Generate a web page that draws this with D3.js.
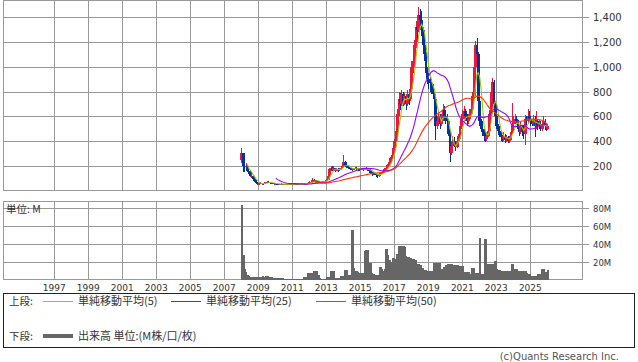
<!DOCTYPE html>
<html>
<head>
<meta charset="utf-8">
<script src="https://cdn.jsdelivr.net/npm/d3@7"></script>
<style>
  html, body { margin: 0; padding: 0; background: #fff; }
  svg text { font-family: "DejaVu Sans", sans-serif; fill: #333; }
  svg text.jp { font-family: "Noto Sans CJK JP", sans-serif; }
</style>
</head>
<body>
<svg id="chart" width="638" height="362"></svg>
<script>
// monthly bars, Dec 2007 .. Dec 2025
const firstMonth = new Date(2007, 11, 1);
const lastMonth = new Date(2025, 11, 1);

const opens = [250,
  300, 200, 190, 200, 160, 150, 120, 120, 90, 80, 60, 55,
  55, 60, 55, 52, 58, 65, 70, 66, 62, 60, 58, 55,
  55, 52, 50, 50, 54, 50, 48, 50, 52, 50, 50, 52,
  55, 55, 56, 52, 50, 50, 52, 54, 55, 52, 56, 62,
  66, 72, 88, 82, 78, 74, 70, 68, 70, 72, 74, 78,
  85, 115, 170, 185, 165, 180, 160, 170, 165, 175, 185, 200,
  230, 205, 190, 185, 180, 175, 170, 175, 180, 178, 172, 170,
  175, 172, 168, 175, 178, 170, 160, 148, 140, 135, 130, 125,
  120, 130, 140, 150, 160, 172, 185, 205, 230, 260, 290, 340,
  400, 480, 620, 740, 700, 780, 720, 760, 700, 780, 740, 820,
  1000, 1050, 1180, 1320, 1300, 1420, 1380, 1300, 1180, 1100, 950, 900,
  880, 870, 820, 780, 740, 520, 560, 600, 540, 580, 650, 600,
  580, 560, 460, 300, 360, 400, 380, 350, 400, 440, 520, 580,
  600, 640, 600, 560, 580, 620, 660, 760, 1000, 1180, 1100, 720,
  560, 500, 470, 440, 420, 440, 480, 620, 800, 880, 700, 600,
  520, 480, 450, 430, 420, 440, 410, 430, 400, 420, 470, 540,
  560, 580, 560, 500, 470, 520, 480, 460, 580, 560, 600, 580,
  560, 540, 580, 520, 560, 520, 540, 500, 520, 560, 520, 500];

const highs = [345,
  305, 215, 220, 205, 170, 155, 135, 125, 95, 85, 65, 62,
  66, 62, 58, 64, 72, 78, 74, 68, 64, 62, 60, 58,
  57, 54, 53, 57, 56, 52, 53, 55, 54, 53, 55, 58,
  58, 60, 58, 54, 53, 55, 57, 58, 56, 60, 68, 74,
  80, 100, 95, 86, 80, 76, 73, 74, 76, 78, 82, 92,
  120, 185, 200, 195, 195, 185, 180, 178, 185, 195, 215, 290,
  240, 210, 200, 192, 185, 180, 185, 190, 188, 182, 178, 182,
  180, 178, 182, 188, 182, 172, 165, 152, 145, 140, 135, 132,
  140, 150, 160, 168, 180, 195, 215, 245, 270, 305, 360, 420,
  500, 660, 800, 790, 810, 800, 790, 780, 810, 800, 860, 1050,
  1100, 1220, 1370, 1380, 1480, 1470, 1450, 1320, 1250, 1120, 1000, 950,
  920, 900, 860, 800, 760, 600, 640, 620, 620, 700, 680, 640,
  620, 580, 480, 400, 440, 430, 400, 420, 460, 560, 620, 650,
  680, 660, 620, 620, 660, 700, 800, 1040, 1210, 1234, 1120, 760,
  580, 530, 500, 470, 470, 520, 650, 840, 912, 890, 720, 620,
  540, 500, 470, 450, 470, 460, 450, 440, 440, 500, 704, 600,
  620, 600, 570, 520, 560, 530, 500, 610, 600, 660, 640, 600,
  580, 610, 600, 640, 570, 570, 560, 550, 600, 580, 540, 540];

const lows = [220,
  150, 150, 160, 150, 130, 110, 100, 85, 70, 55, 48, 48,
  52, 50, 48, 50, 56, 62, 62, 58, 56, 54, 52, 50,
  50, 48, 47, 48, 47, 45, 46, 48, 48, 47, 48, 50,
  52, 52, 48, 47, 47, 48, 50, 51, 49, 50, 54, 58,
  62, 68, 76, 72, 68, 64, 64, 65, 67, 68, 70, 75,
  82, 110, 160, 155, 160, 150, 155, 152, 160, 168, 180, 195,
  195, 180, 175, 170, 165, 160, 165, 170, 168, 160, 158, 162,
  165, 160, 162, 168, 158, 145, 135, 115, 125, 122, 112, 104,
  108, 120, 132, 142, 150, 162, 178, 195, 220, 245, 280, 330,
  390, 470, 600, 650, 680, 680, 690, 650, 680, 690, 720, 800,
  950, 1000, 1150, 1200, 1280, 1300, 1250, 1150, 1050, 900, 860, 820,
  800, 780, 740, 700, 410, 500, 540, 500, 520, 560, 560, 540,
  520, 440, 232, 290, 340, 350, 320, 340, 390, 420, 500, 560,
  580, 560, 520, 540, 560, 600, 640, 740, 960, 1000, 700, 520,
  480, 440, 400, 390, 400, 430, 470, 600, 760, 680, 560, 500,
  460, 430, 400, 395, 400, 385, 390, 380, 385, 410, 460, 500,
  540, 540, 480, 440, 460, 440, 420, 370, 520, 540, 550, 520,
  520, 520, 430, 500, 490, 500, 480, 480, 500, 490, 480, 490];

const closes = [300,
  200, 190, 200, 160, 150, 120, 120, 90, 80, 60, 55, 55,
  60, 55, 52, 58, 65, 70, 66, 62, 60, 58, 55, 55,
  52, 50, 50, 54, 50, 48, 50, 52, 50, 50, 52, 55,
  55, 56, 52, 50, 50, 52, 54, 55, 52, 56, 62, 66,
  72, 88, 82, 78, 74, 70, 68, 70, 72, 74, 78, 85,
  115, 170, 185, 165, 180, 160, 170, 165, 175, 185, 200, 230,
  205, 190, 185, 180, 175, 170, 175, 180, 178, 172, 170, 175,
  172, 168, 175, 178, 170, 160, 148, 140, 135, 130, 125, 120,
  130, 140, 150, 160, 172, 185, 205, 230, 260, 290, 340, 400,
  480, 620, 740, 700, 780, 720, 760, 700, 780, 740, 820, 1000,
  1050, 1180, 1320, 1300, 1420, 1380, 1300, 1180, 1100, 950, 900, 880,
  870, 820, 780, 740, 520, 560, 600, 540, 580, 650, 600, 580,
  560, 460, 300, 360, 400, 380, 350, 400, 440, 520, 580, 600,
  640, 600, 560, 580, 620, 660, 760, 1000, 1180, 1100, 720, 560,
  500, 470, 440, 420, 440, 480, 620, 800, 880, 700, 600, 520,
  480, 450, 430, 420, 440, 410, 430, 400, 420, 470, 540, 560,
  580, 560, 500, 470, 520, 480, 460, 580, 560, 600, 580, 560,
  540, 580, 520, 560, 520, 540, 500, 520, 560, 520, 500, 520];

// 出来高 (M)
const volumes = [83,
  27, 12, 8, 5, 4, 3, 3, 3, 2.5, 3, 3, 3,
  3, 3, 3.5, 3, 3.5, 4, 3, 2.5, 2.5, 2, 2, 2,
  2, 2, 1.5, 1.5, 1.5, 1, 1, 1, 1, 1, 1, 1,
  1, 1, 1, 1, 1, 1, 1, 3, 3, 3, 7.5, 7.5,
  7.5, 7.5, 10, 10, 10, 5.6, 1.5, 1, 1, 1, 1, 3,
  3, 2, 9, 9, 9, 1.5, 1.5, 1.5, 1.5, 3.7, 3.7, 3.7,
  11, 11, 5.6, 5.6, 5.6, 56, 13, 10, 9, 8, 7.5, 7.5,
  7.5, 7.5, 32, 33, 33, 11, 19, 7.5, 6, 5.6, 5.6, 5.6,
  5.6, 14, 12, 10, 12, 34, 28, 22, 17, 20, 24, 23,
  23, 29, 37, 37, 37, 37, 36, 26, 25, 25, 24, 23,
  23, 22, 22, 17, 17, 16, 13, 13, 11, 11, 10, 10,
  10, 10, 9.5, 18, 18, 11, 18, 18, 12, 10, 14, 16,
  16, 17, 17, 17, 16, 16, 16, 16, 15, 15, 15, 15,
  8, 8, 8, 8, 6.5, 6.5, 13, 13, 7, 7, 7, 47,
  6, 6, 6, 45, 17, 17, 17, 17, 17, 17, 21, 12,
  11, 11, 10, 10, 10, 10, 10, 10, 9, 9, 17, 12,
  12, 12, 10, 10, 9, 9, 10, 10, 7, 6, 6, 4,
  4, 3.5, 3.5, 4, 6, 6, 6, 12, 12, 8, 8, 11];

const yearTicks = [1997, 1999, 2001, 2003, 2005, 2007, 2009, 2011, 2013, 2015, 2017, 2019, 2021, 2023, 2025];
const priceTicks = [200, 400, 600, 800, 1000, 1200, 1400];
const volumeTicks = [20, 40, 60, 80];
const maPeriods = [5, 25, 50];
const maColors = ['#99cc00', '#9900ff', '#ff3300'];
const maLabels = ['単純移動平均(5)', '単純移動平均(25)', '単純移動平均(50)'];

const months = d3.timeMonth.range(firstMonth, d3.timeMonth.offset(lastMonth, 1));

const svg = d3.select('#chart');
const left = 3, right = 582;

const x = d3.scaleTime()
  .domain([new Date(1994, 0, 1), new Date(2028, 0, 1)])
  .range([3.3, 581.3]);
const y = d3.scaleLinear().domain([0, 1536]).range([190.5, 0.5]);
const yv = d3.scaleLinear().domain([0, 88]).range([279.5, 201]);

const px = v => Math.round(v) + 0.5;
const grid = '#999';

// パネル枠・グリッド・右目盛
function panel(y0, y1, ticks, scale, fmt, fontSize) {
  const g = svg.append('g').attr('shape-rendering', 'crispEdges');
  g.append('rect').attr('x', left + 0.5).attr('y', y0).attr('width', right - left)
    .attr('height', y1 - y0).attr('fill', '#fff').attr('stroke', grid);
  g.selectAll('.v').data(yearTicks).enter().append('line')
    .attr('x1', d => px(x(new Date(d, 0, 1)))).attr('x2', d => px(x(new Date(d, 0, 1))))
    .attr('y1', y0).attr('y2', y1).attr('stroke', grid);
  g.selectAll('.h').data(ticks).enter().append('line')
    .attr('x1', left + 0.5).attr('x2', 589)
    .attr('y1', d => px(scale(d))).attr('y2', d => px(scale(d))).attr('stroke', grid);
  svg.selectAll(null).data(ticks).enter().append('text')
    .attr('x', 593).attr('y', d => px(scale(d)))
    .attr('dy', '0.36em').style('font-size', fontSize + 'px').text(fmt);
}
panel(0.5, 190.5, priceTicks, y, d3.format(','), 10);
panel(201.5, 279.5, volumeTicks, yv, d => d + 'M', 8.5);

const bx = i => x(months[i]) + 0.5;

// ローソク足
const candles = svg.append('g').attr('shape-rendering', 'crispEdges');
months.forEach((m, i) => {
  const up = closes[i] >= opens[i];
  const col = up ? '#f0143c' : '#0033a0';
  const yt = y(Math.max(opens[i], closes[i]));
  const yb = y(Math.min(opens[i], closes[i]));
  candles.append('rect').attr('x', bx(i) + 1).attr('width', 1)
    .attr('y', y(highs[i])).attr('height', Math.max(1, y(lows[i]) - y(highs[i])))
    .attr('fill', col);
  candles.append('rect').attr('x', bx(i)).attr('width', 2.9)
    .attr('y', yt).attr('height', Math.max(1, yb - yt))
    .attr('fill', col);
});

// 移動平均
maPeriods.forEach((n, k) => {
  const pts = [];
  for (let i = n - 1; i < closes.length; i++) {
    pts.push([bx(i) + 1.4, y(d3.mean(closes.slice(i - n + 1, i + 1)))]);
  }
  svg.append('path').attr('d', d3.line()(pts)).attr('fill', 'none')
    .attr('stroke', maColors[k]).attr('stroke-width', 1.1);
});

// 出来高
svg.append('g').attr('shape-rendering', 'crispEdges')
  .selectAll('rect').data(volumes).enter().append('rect')
  .attr('x', (d, i) => bx(i) + 0.2).attr('width', 2.6)
  .attr('y', d => yv(d)).attr('height', d => yv(0) - yv(d))
  .attr('fill', '#666');

svg.append('text').attr('class', 'jp').attr('x', 6).attr('y', 213)
  .style('font-size', '10.5px').text('単位: M');

// 年ラベル
svg.selectAll('.yr').data(yearTicks).enter().append('text')
  .attr('x', d => x(new Date(d, 0, 1))).attr('y', 291)
  .attr('text-anchor', 'middle').style('font-size', '9px').text(d => d);

// 凡例
const lg = svg.append('g');
lg.append('rect').attr('x', 3.5).attr('y', 293.5).attr('width', 631).attr('height', 54)
  .attr('fill', 'none').attr('stroke', '#222').attr('shape-rendering', 'crispEdges');
lg.append('text').attr('class', 'jp').attr('x', 9).attr('y', 305).style('font-size', '10.5px').text('上段:');
const legX = [43, 171, 316];
maLabels.forEach((t, k) => {
  lg.append('line').attr('x1', legX[k]).attr('x2', legX[k] + 30).attr('y1', 301.5).attr('y2', 301.5)
    .attr('stroke', maColors[k]).attr('stroke-width', 1);
  lg.append('text').attr('class', 'jp').attr('x', legX[k] + 35).attr('y', 305)
    .style('font-size', '11px').text(t);
});
lg.append('text').attr('class', 'jp').attr('x', 9).attr('y', 340).style('font-size', '10.5px').text('下段:');
lg.append('line').attr('x1', 43).attr('x2', 73).attr('y1', 336).attr('y2', 336)
  .attr('stroke', '#666').attr('stroke-width', 4);
lg.append('text').attr('class', 'jp').attr('x', 78).attr('y', 340)
  .style('font-size', '11px').text('出来高 単位:(M株/口/枚)');

svg.append('text').attr('x', 619).attr('y', 360).attr('text-anchor', 'end')
  .style('font-size', '10px').style('fill', '#555').text('(c)Quants Research Inc.');
</script>
</body>
</html>
